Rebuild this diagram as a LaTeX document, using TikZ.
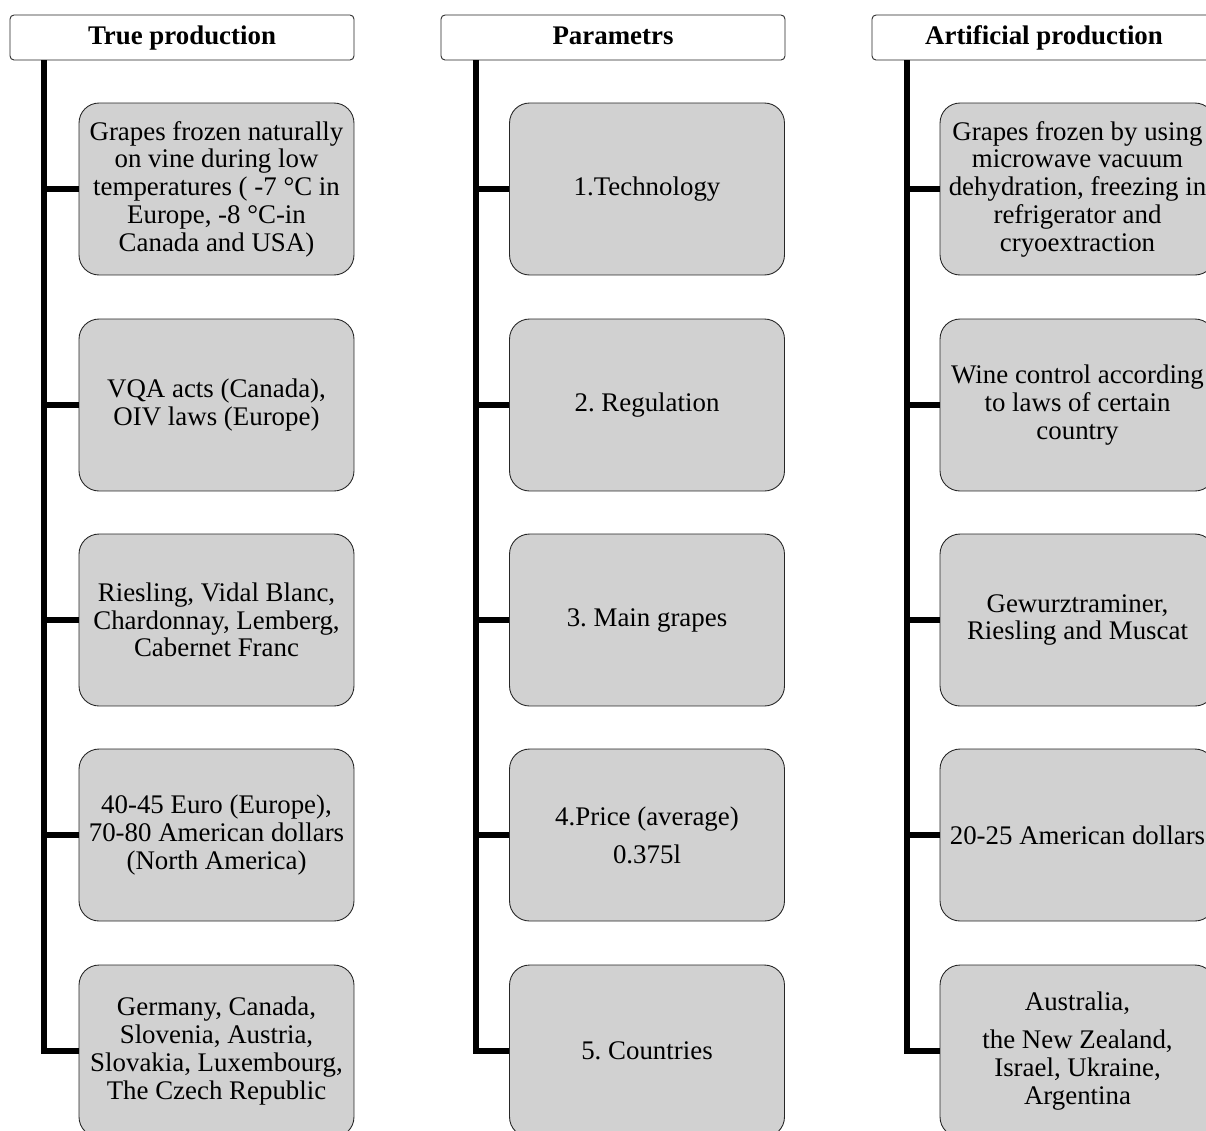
\documentclass[tikz,border=0pt]{standalone}
\usepackage{fontspec}
\setmainfont{Liberation Serif}
\frenchspacing
\begin{document}
\begin{tikzpicture}[x=0.02cm,y=-0.02cm,
    head/.style={draw=black!85,fill=white,rounded corners=0.08cm,line width=0.5pt,
      minimum width=6.88cm,minimum height=0.9cm,inner sep=0pt,
      text height=2ex,text depth=0.35ex,
      font=\fontsize{15.3}{16}\selectfont\bfseries},
    box/.style={draw=black!85,fill=black!18,rounded corners=0.4cm,line width=0.5pt,
      minimum width=5.5cm,minimum height=3.44cm,inner sep=2pt,align=center,
      font=\fontsize{15.3}{15.8}\selectfont},
    spine/.style={line width=3.2pt,color=black}]
    \clip (0,0) rectangle (1206,1130);
    \fill[white] (0,0) rectangle (1206,1130);

    % first column
    \node(h1) at (182,37.5) [head] {True production};
    \coordinate (s1) at (44,60);
  	\node(b11) at (216.5,189) [box] {Grapes frozen naturally\\ on vine during low\\ temperatures ( -7 °C in\\ Europe, -8 °C-in\\ Canada and USA)};
  	\node(b12) at (216.5,405) [box] {VQA acts (Canada),\\ OIV laws (Europe)};
  	\node(b13) at (216.5,620) [box] {Riesling, Vidal Blanc,\\ Chardonnay, Lemberg,\\ Cabernet Franc};
  	\node(b14) at (216.5,835) [box] {40-45 Euro (Europe),\\ 70-80 American dollars\\ (North America)};
  	\node(b15) at (216.5,1051) [box] {Germany, Canada,\\ Slovenia, Austria,\\ Slovakia, Luxembourg,\\ The Czech Republic};
    \draw[spine] (s1) |- (b15.west);
    \draw[spine] (s1 |- b11.west) -- (b11.west);
    \draw[spine] (s1 |- b12.west) -- (b12.west);
    \draw[spine] (s1 |- b13.west) -- (b13.west);
    \draw[spine] (s1 |- b14.west) -- (b14.west);

    % second column
    \node(h2) at (613,37.5) [head] {Parametrs};
    \coordinate (s2) at (476,60);
  	\node(b21) at (647,189) [box] {1.Technology};
  	\node(b22) at (647,405) [box] {2. Regulation};
  	\node(b23) at (647,620) [box] {3. Main grapes};
  	\node(b24) at (647,835) [box] {4.Price (average)\\[6pt] 0.375l};
  	\node(b25) at (647,1051) [box] {5. Countries};
    \draw[spine] (s2) |- (b25.west);
    \draw[spine] (s2 |- b21.west) -- (b21.west);
    \draw[spine] (s2 |- b22.west) -- (b22.west);
    \draw[spine] (s2 |- b23.west) -- (b23.west);
    \draw[spine] (s2 |- b24.west) -- (b24.west);

    % third column
    \node(h3) at (1044,37.5) [head] {Artificial production};
    \coordinate (s3) at (907,60);
  	\node(b31) at (1077.5,189) [box] {Grapes frozen by using\\ microwave vacuum\\ dehydration, freezing in\\ refrigerator and\\ cryoextraction};
  	\node(b32) at (1077.5,405) [box] {Wine control according\\ to laws of certain\\ country};
  	\node(b33) at (1077.5,620) [box] {Gewurztraminer,\\ Riesling and Muscat};
  	\node(b34) at (1077.5,835) [box] {20-25 American dollars};
  	\node(b35) at (1077.5,1051) [box] {Australia,\\[6pt] the New Zealand,\\ Israel, Ukraine,\\ Argentina};
    \draw[spine] (s3) |- (b35.west);
    \draw[spine] (s3 |- b31.west) -- (b31.west);
    \draw[spine] (s3 |- b32.west) -- (b32.west);
    \draw[spine] (s3 |- b33.west) -- (b33.west);
    \draw[spine] (s3 |- b34.west) -- (b34.west);
\end{tikzpicture}
\end{document}
